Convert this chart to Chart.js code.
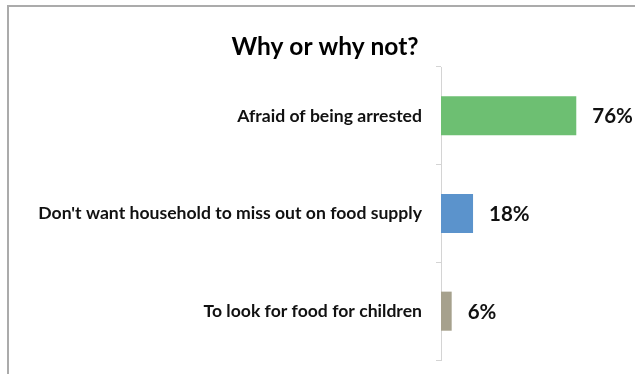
<!DOCTYPE html>
<html>
<head>
<meta charset="utf-8">
<script src="https://cdn.jsdelivr.net/npm/chart.js@4/dist/chart.umd.min.js"></script>
<style>
  html, body { margin: 0; padding: 0; background: #fff; overflow: hidden; width: 635px; height: 374px; }
  #frame {
    position: absolute; left: 7px; top: 5px; width: 700px; height: 400px;
    border-top: 2px solid #ababab; border-left: 2px solid #ababab;
  }
  #wrap { position: absolute; left: 10px; top: 7px; width: 630px; height: 380px; }
</style>
</head>
<body>
<div id="frame"></div>
<div id="wrap"><canvas id="c" width="630" height="380"></canvas></div>
<script>
const titleText = "Why or why not?";
const categories = [
  "Afraid of being arrested",
  "Don't want household to miss out on food supply",
  "To look for food for children"
];
const percentages = [76, 18, 6];
const barColors = ["#6dbf72", "#5b93cc", "#a6a18d"];

const FONT = "Lato, 'Open Sans', 'Liberation Sans', sans-serif";

// Writes each bar's percentage just past its end
const valueLabels = {
  id: "valueLabels",
  afterDatasetsDraw(chart) {
    const ctx = chart.ctx;
    const meta = chart.getDatasetMeta(0);
    ctx.save();
    ctx.font = "bold 20.5px " + FONT;
    ctx.fillStyle = "#111";
    ctx.textAlign = "left";
    ctx.textBaseline = "middle";
    meta.data.forEach((bar, i) => {
      ctx.fillText(percentages[i] + "%", bar.x + 16, bar.y + 1);
    });
    ctx.restore();
  }
};

new Chart(document.getElementById("c"), {
  type: "bar",
  data: {
    labels: categories,
    datasets: [{
      data: percentages,
      backgroundColor: barColors,
      borderWidth: 0,
      barPercentage: 0.4,
      categoryPercentage: 1
    }]
  },
  options: {
    indexAxis: "y",
    responsive: false,
    animation: false,
    layout: { padding: { top: 0, right: 21, bottom: 27, left: 21 } },
    plugins: {
      legend: { display: false },
      tooltip: { enabled: false },
      title: {
        display: true,
        text: titleText,
        color: "#000",
        font: { family: FONT, size: 24.5, weight: "bold", lineHeight: 1.2 },
        padding: { top: 25, bottom: 5.6 }
      }
    },
    scales: {
      x: {
        display: false,
        min: 0,
        max: 100
      },
      y: {
        offset: true,
        afterFit(scale) { scale.width = 410; },
        grid: {
          offset: true,
          drawOnChartArea: false,
          drawTicks: true,
          tickLength: 5,
          color: "#d4d4d4"
        },
        border: { display: true, color: "#d4d4d4", width: 1 },
        ticks: {
          color: "#111",
          padding: 14,
          font: { family: FONT, size: 17.6, weight: "bold" }
        }
      }
    }
  },
  plugins: [valueLabels]
});
</script>
</body>
</html>
